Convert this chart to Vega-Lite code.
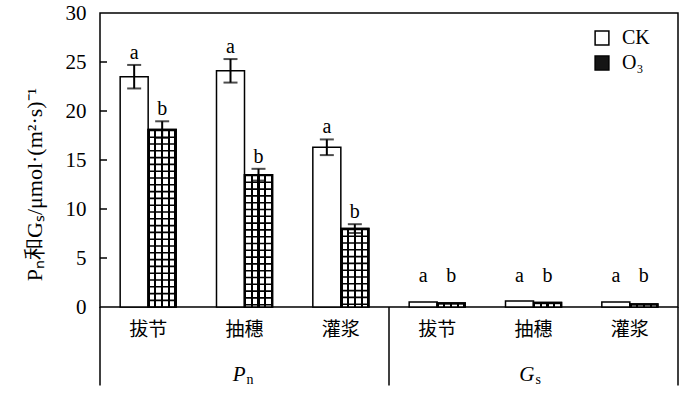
{
  "$schema": "https://vega.github.io/schema/vega-lite/v6.json",
  "width": 578,
  "height": 294,
  "autosize": {"type": "none"},
  "padding": {"left": 100, "top": 13, "right": 22, "bottom": 86},
  "background": "white",
  "config": {
    "font": "Liberation Serif",
    "view": {"stroke": "black", "strokeWidth": 1.5},
    "axisY": {"domain": false, "ticks": false, "labelFontSize": 21, "labelColor": "black", "labelPadding": 14, "grid": false, "titleFontSize": 22, "titleFontWeight": "normal", "titleColor": "black", "titlePadding": 19, "titleY": 171, "titleAlign": "center", "labelFont": "Liberation Serif", "titleFont": "Liberation Serif"},
    "axisX": {"domain": false, "ticks": false, "labelAngle": 0, "labelFont": "Noto Sans CJK SC", "labelFontSize": 19, "labelColor": "black", "labelPadding": 13, "labelExpr": "split(datum.value, '-')[1]", "grid": false},
    "legend": {"labelFont": "Liberation Serif", "labelFontSize": 20, "labelColor": "black"}
  },
  "data": {"values": [
    {"cat": "Pn-拔节", "grp": "CK", "value": 23.5, "err": 1.2, "letter": "a"},
    {"cat": "Pn-拔节", "grp": "O₃", "value": 18.1, "err": 0.85, "letter": "b"},
    {"cat": "Pn-抽穗", "grp": "CK", "value": 24.1, "err": 1.2, "letter": "a"},
    {"cat": "Pn-抽穗", "grp": "O₃", "value": 13.5, "err": 0.6, "letter": "b"},
    {"cat": "Pn-灌浆", "grp": "CK", "value": 16.3, "err": 0.8, "letter": "a"},
    {"cat": "Pn-灌浆", "grp": "O₃", "value": 8.0, "err": 0.45, "letter": "b"},
    {"cat": "Gs-拔节", "grp": "CK", "value": 0.5, "err": 0, "letter": "a"},
    {"cat": "Gs-拔节", "grp": "O₃", "value": 0.4, "err": 0, "letter": "b"},
    {"cat": "Gs-抽穗", "grp": "CK", "value": 0.6, "err": 0, "letter": "a"},
    {"cat": "Gs-抽穗", "grp": "O₃", "value": 0.45, "err": 0, "letter": "b"},
    {"cat": "Gs-灌浆", "grp": "CK", "value": 0.5, "err": 0, "letter": "a"},
    {"cat": "Gs-灌浆", "grp": "O₃", "value": 0.3, "err": 0, "letter": "b"}
  ]},
  "transform": [
    {"calculate": "datum.value - datum.err", "as": "low"},
    {"calculate": "datum.value + datum.err", "as": "high"},
    {"calculate": "max(datum.value + datum.err, 1.95)", "as": "labelY"}
  ],
  "layer": [
    {
      "mark": {"type": "bar", "stroke": "black", "strokeWidth": 1.5},
      "encoding": {
        "x": {"field": "cat", "type": "nominal", "title": null, "sort": null,
              "scale": {"domain": ["Pn-拔节", "Pn-抽穗", "Pn-灌浆", "Gs-拔节", "Gs-抽穗", "Gs-灌浆"], "paddingInner": 0, "paddingOuter": 0}},
        "xOffset": {"field": "grp", "type": "nominal", "scale": {"domain": ["CK", "O₃"], "paddingInner": 0, "paddingOuter": 0.72}},
        "y": {"field": "value", "type": "quantitative", "title": "Pₙ和Gₛ/μmol·(m²·s)⁻¹",
              "scale": {"domain": [0, 30], "nice": false}, "axis": {"values": [0, 5, 10, 15, 20, 25, 30]}},
        "fill": {"field": "grp", "type": "nominal", "scale": {"domain": ["CK", "O₃"], "range": ["white", "#151515"]},
                 "legend": {"title": null, "orient": "none", "legendX": 492, "legendY": 15, "padding": 0, "symbolType": "square", "symbolSize": 190, "symbolStrokeColor": "black", "symbolStrokeWidth": 1.5, "rowPadding": 5, "labelOffset": 10}}
      }
    },
    {
      "transform": [{"filter": "datum.grp == 'O₃'"}],
      "mark": {"type": "bar", "stroke": "black", "strokeWidth": 1.5,
               "fill": {"gradient": "linear", "x1": 0, "y1": 0, "x2": 1, "y2": 0, "stops": [
                 {"offset": 0, "color": "black"}, {"offset": 0.06, "color": "black"},
                 {"offset": 0.06, "color": "white"}, {"offset": 0.22, "color": "white"},
                 {"offset": 0.22, "color": "black"}, {"offset": 0.29, "color": "black"},
                 {"offset": 0.29, "color": "white"}, {"offset": 0.46, "color": "white"},
                 {"offset": 0.46, "color": "black"}, {"offset": 0.54, "color": "black"},
                 {"offset": 0.54, "color": "white"}, {"offset": 0.71, "color": "white"},
                 {"offset": 0.71, "color": "black"}, {"offset": 0.78, "color": "black"},
                 {"offset": 0.78, "color": "white"}, {"offset": 0.94, "color": "white"},
                 {"offset": 0.94, "color": "black"}, {"offset": 1, "color": "black"}]}},
      "encoding": {
        "x": {"field": "cat", "type": "nominal", "title": null, "sort": null},
        "xOffset": {"field": "grp", "type": "nominal"},
        "y": {"field": "value", "type": "quantitative", "title": "Pₙ和Gₛ/μmol·(m²·s)⁻¹"}
      }
    },
    {
      "transform": [{"filter": "datum.grp == 'O₃'"}],
      "mark": {"type": "rule", "color": "black", "strokeWidth": 26, "strokeDash": [1.6, 5.2], "strokeCap": "butt"},
      "encoding": {
        "x": {"field": "cat", "type": "nominal", "title": null, "sort": null},
        "xOffset": {"field": "grp", "type": "nominal"},
        "y": {"field": "value", "type": "quantitative", "title": "Pₙ和Gₛ/μmol·(m²·s)⁻¹"},
        "y2": {"datum": 0}
      }
    },
    {
      "transform": [{"filter": "datum.err > 0"}],
      "mark": {"type": "rule", "color": "black", "strokeWidth": 2},
      "encoding": {
        "x": {"field": "cat", "type": "nominal", "title": null, "sort": null},
        "xOffset": {"field": "grp", "type": "nominal"},
        "y": {"field": "low", "type": "quantitative", "title": "Pₙ和Gₛ/μmol·(m²·s)⁻¹"},
        "y2": {"field": "high"}
      }
    },
    {
      "transform": [{"filter": "datum.err > 0"}],
      "mark": {"type": "tick", "color": "black", "thickness": 2, "size": 14},
      "encoding": {
        "x": {"field": "cat", "type": "nominal", "title": null, "sort": null},
        "xOffset": {"field": "grp", "type": "nominal"},
        "y": {"field": "high", "type": "quantitative", "title": "Pₙ和Gₛ/μmol·(m²·s)⁻¹"}
      }
    },
    {
      "transform": [{"filter": "datum.err > 0"}],
      "mark": {"type": "tick", "color": "black", "thickness": 2, "size": 14},
      "encoding": {
        "x": {"field": "cat", "type": "nominal", "title": null, "sort": null},
        "xOffset": {"field": "grp", "type": "nominal"},
        "y": {"field": "low", "type": "quantitative", "title": "Pₙ和Gₛ/μmol·(m²·s)⁻¹"}
      }
    },
    {
      "mark": {"type": "text", "font": "Liberation Serif", "fontSize": 20, "color": "black", "baseline": "alphabetic", "dy": -6},
      "encoding": {
        "x": {"field": "cat", "type": "nominal", "title": null, "sort": null},
        "xOffset": {"field": "grp", "type": "nominal"},
        "y": {"field": "labelY", "type": "quantitative", "title": "Pₙ和Gₛ/μmol·(m²·s)⁻¹"},
        "text": {"field": "letter"}
      }
    },
    {
      "data": {"values": [{"cat": "Pn-拔节", "t": 5}, {"cat": "Pn-拔节", "t": 10}, {"cat": "Pn-拔节", "t": 15}, {"cat": "Pn-拔节", "t": 20}, {"cat": "Pn-拔节", "t": 25}]},
      "mark": {"type": "rule", "color": "black", "strokeWidth": 1.5, "x2Offset": 7},
      "encoding": {
        "x": {"field": "cat", "type": "nominal", "title": null, "sort": null, "bandPosition": 0},
        "x2": {"field": "cat", "bandPosition": 0},
        "y": {"field": "t", "type": "quantitative", "title": "Pₙ和Gₛ/μmol·(m²·s)⁻¹"}
      }
    },
    {
      "data": {"values": [{"cat": "Pn-抽穗", "main": "P", "sub": "n"}, {"cat": "Gs-抽穗", "main": "G", "sub": "s"}]},
      "layer": [
        {
          "mark": {"type": "text", "font": "Liberation Serif", "fontSize": 21, "fontStyle": "italic", "color": "black", "baseline": "alphabetic", "align": "right", "dx": 1, "dy": 7},
          "encoding": {
            "x": {"field": "cat", "type": "nominal", "title": null, "sort": null},
            "y": {"datum": -6.8},
            "text": {"field": "main"}
          }
        },
        {
          "mark": {"type": "text", "font": "Liberation Serif", "fontSize": 14, "color": "black", "baseline": "alphabetic", "align": "left", "dx": 2, "dy": 10},
          "encoding": {
            "x": {"field": "cat", "type": "nominal", "title": null, "sort": null},
            "y": {"datum": -6.8},
            "text": {"field": "sub"}
          }
        }
      ]
    },
    {
      "data": {"values": [{"cat": "Pn-拔节"}, {"cat": "Gs-拔节"}]},
      "mark": {"type": "rule", "color": "black", "strokeWidth": 1.5},
      "encoding": {
        "x": {"field": "cat", "type": "nominal", "title": null, "sort": null, "bandPosition": 0},
        "y": {"datum": 0},
        "y2": {"datum": -8}
      }
    },
    {
      "data": {"values": [{"cat": "Gs-灌浆"}]},
      "mark": {"type": "rule", "color": "black", "strokeWidth": 1.5},
      "encoding": {
        "x": {"field": "cat", "type": "nominal", "title": null, "sort": null, "bandPosition": 1},
        "y": {"datum": 0},
        "y2": {"datum": -8}
      }
    }
  ]
}
